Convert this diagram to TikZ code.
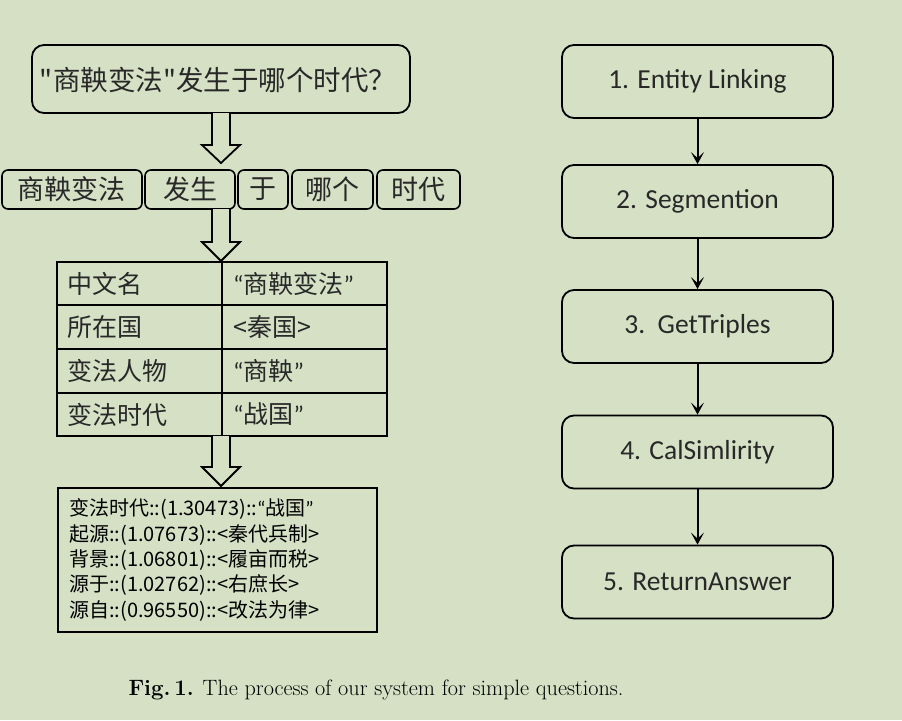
\documentclass[tikz,border=0pt]{standalone}
\usepackage{fontspec}
\usetikzlibrary{arrows.meta}
\newfontfamily\cjk{Noto Sans CJK SC}
\newfontfamily\calfont{Carlito}
\definecolor{bg}{RGB}{213,224,197}
\definecolor{ink}{RGB}{40,40,40}
\newcommand{\myLq}{{\calfont “}}
\newcommand{\myRq}{{\calfont ”}}
\begin{document}
\begin{tikzpicture}[x=1pt,y=-1pt,
  qbox/.style={draw=black,line width=1.8pt,rounded corners=12pt,fill=bg},
  tokbox/.style={draw=black,line width=1.6pt,rounded corners=6pt},
  stepbox/.style={draw=black,line width=1.8pt,rounded corners=12pt,minimum width=271pt,minimum height=73pt,
    font=\calfont\fontsize{27.5}{32}\selectfont,text=ink},
  cell/.style={anchor=west,font=\cjk\fontsize{25}{29}\selectfont,text=ink,inner sep=0pt},
  resline/.style={anchor=west,font=\cjk\fontsize{20}{24}\selectfont,text=black,inner sep=0pt},
  hollow/.style={draw=black,line width=1.8pt,fill=bg,line join=miter},
  flow/.style={line width=2pt,-{Stealth[length=12pt,width=13pt,inset=6pt]}}
]
\useasboundingbox (0,0) rectangle (902,720);
\fill[bg] (0,0) rectangle (902,720);

% question box
\draw[qbox] (32,45) rectangle (410,113);
\node[font=\cjk\fontsize{27.5}{32}\selectfont,text=ink] (q) at (218,80) {"商鞅变法"发生于哪个时代？};

% hollow arrow 1
\draw[hollow] (212,113) -- (212,145) -- (202,145) -- (221,163) -- (240,145) -- (230,145) -- (230,113);

% token boxes
\draw[tokbox] (2,170) rectangle (142,209);
\draw[tokbox] (145,170) rectangle (235,209);
\draw[tokbox] (238,170) rectangle (288,209);
\draw[tokbox] (292,170) rectangle (373,209);
\draw[tokbox] (377,170) rectangle (460,209);
\begin{scope}[every node/.style={font=\cjk\fontsize{27}{31}\selectfont,text=ink}]
\node (t1) at (71,189) {商鞅变法};
\node (t2) at (190,189) {发生};
\node (t3) at (263,189) {于};
\node (t4) at (332,189) {哪个};
\node (t5) at (418,189) {时代};
\end{scope}

% hollow arrow 2
\draw[hollow] (212,209) -- (212,242) -- (202,242) -- (221,261) -- (240,242) -- (230,242) -- (230,209);

% table
\draw[line width=1.4pt] (57,262) rectangle (387,436);
\draw[line width=1.4pt] (222,262) -- (222,436);
\draw[line width=1.4pt] (57,305) -- (387,305);
\draw[line width=1.4pt] (57,349) -- (387,349);
\draw[line width=1.4pt] (57,393) -- (387,393);
\node[cell] (a1) at (67,283.5) {中文名};
\node[cell] (b1) at (233,283.5) {\myLq 商鞅变法\myRq};
\node[cell] (a2) at (67,327) {所在国};
\node[cell] (b2) at (233,327) {<秦国>};
\node[cell] (a3) at (67,371) {变法人物};
\node[cell] (b3) at (233,371) {\myLq 商鞅\myRq};
\node[cell] (a4) at (67,414.5) {变法时代};
\node[cell] (b4) at (233,414.5) {\myLq 战国\myRq};

% hollow arrow 3
\draw[hollow] (212,436) -- (212,467) -- (202,467) -- (221,486) -- (240,467) -- (230,467) -- (230,436);

% result box
\draw[line width=2.6pt] (58,488) rectangle (377,632);
\node[resline] (r1) at (69,509) {变法时代::(1.30473)::\myLq 战国\myRq};
\node[resline] (r2) at (69,535) {起源::(1.07673)::<秦代兵制>};
\node[resline] (r3) at (69,560) {背景::(1.06801)::<履亩而税>};
\node[resline] (r4) at (69,585.5) {源于::(1.02762)::<右庶长>};
\node[resline] (r5) at (69,611) {源自::(0.96550)::<改法为律>};

% right flow
\node[stepbox] (s1) at (697.5,81.5) {1. Entity Linking};
\node[stepbox] (s2) at (697.5,201.5) {2. Segmention};
\node[stepbox] (s3) at (697.5,326.5) {3.\ \ GetTriples};
\node[stepbox] (s4) at (697.5,452) {4. CalSimlirity};
\node[stepbox] (s5) at (697.5,582) {5. ReturnAnswer};
\draw[flow] (s1) -- (s2);
\draw[flow] (s2) -- (s3);
\draw[flow] (s3) -- (s4);
\draw[flow] (s4) -- (s5);

% caption
\node[font=\fontsize{22.2}{26}\selectfont,text=black] (cap) at (376,690) {\textbf{Fig.\,1.} The process of our system for simple questions.};
\end{tikzpicture}
\end{document}
